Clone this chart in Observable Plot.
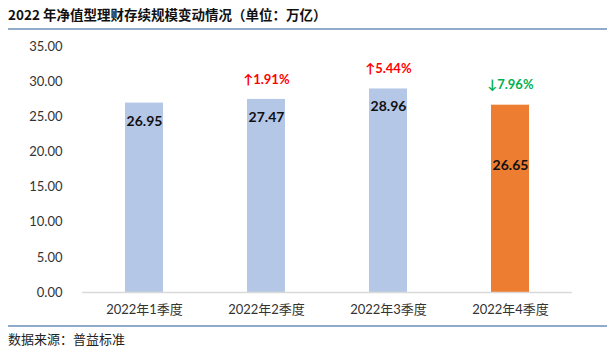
<!DOCTYPE html>
<html><head><meta charset="utf-8">
<script src="https://cdn.jsdelivr.net/npm/d3@7"></script>
<script src="https://cdn.jsdelivr.net/npm/@observablehq/plot@0.6"></script>
<style>
body{margin:0;background:#fff;width:607px;height:354px;overflow:hidden;font-family:"Noto Sans CJK SC",sans-serif;}
#title{height:28px;line-height:28px;font-weight:bold;font-size:13.5px;color:#111;border-bottom:2px solid #8FAACB;margin:0 0 0 8px;}
#chart{height:295px;}
#cap{border-top:2px solid #8FAACB;margin:0 0 0 8px;font-size:13px;color:#222;line-height:24px;}
</style></head><body>
<div id="title">2022 年净值型理财存续规模变动情况（单位：万亿）</div>
<div id="chart"></div>
<div id="cap">数据来源：普益标准</div>
<script>
const quarters = ["2022年1季度","2022年2季度","2022年3季度","2022年4季度"];
const values = [26.95, 27.47, 28.96, 26.65];
const changes = ["", "↑1.91%", "↑5.44%", "↓7.96%"];
const direction = ["none", "up", "up", "down"];
const yTicks = [0,5,10,15,20,25,30,35];

const data = quarters.map((q,i)=>({q, v: values[i], c: changes[i], dir: direction[i], last: i===quarters.length-1}));

const chart = Plot.plot({
  width: 607, height: 295,
  marginLeft: 82, marginRight: 35, marginTop: 16, marginBottom: 33,
  style: {fontFamily: "Lato, 'Noto Sans CJK SC', sans-serif", fontSize: "13px", color: "#333"},
  x: {domain: quarters, paddingInner: 0.69, paddingOuter: 0.345, label: null, tickSize: 0, tickPadding: 12},
  y: {domain: [0,35], ticks: yTicks, tickFormat: d3.format(".2f"), label: null, tickSize: 0, tickPadding: 20},
  marks: [
    Plot.barY(data, {x: "q", y: "v", fill: d => d.last ? "#ED7D31" : "#B4C7E7"}),
    Plot.ruleY([0], {stroke: "#D9D9D9", strokeWidth: 1.5}),
    Plot.text(data.filter(d=>!d.last), {x: "q", y: "v", text: d => d.v.toFixed(2), dy: 18, fontWeight: "bold", fontSize: 14, fill: "#111"}),
    Plot.text(data.filter(d=>d.last), {x: "q", y: "v", text: d => d.v.toFixed(2), dy: 60, fontWeight: "bold", fontSize: 14, fill: "#111"}),
    Plot.text(data.filter(d=>d.c), {x: "q", y: "v", text: "c", dy: -20, fontWeight: "bold", fontSize: 13, fill: d => d.dir==="up" ? "#FF0000" : "#00B050"})
  ]
});
document.getElementById("chart").appendChild(chart);
</script>
</body></html>
